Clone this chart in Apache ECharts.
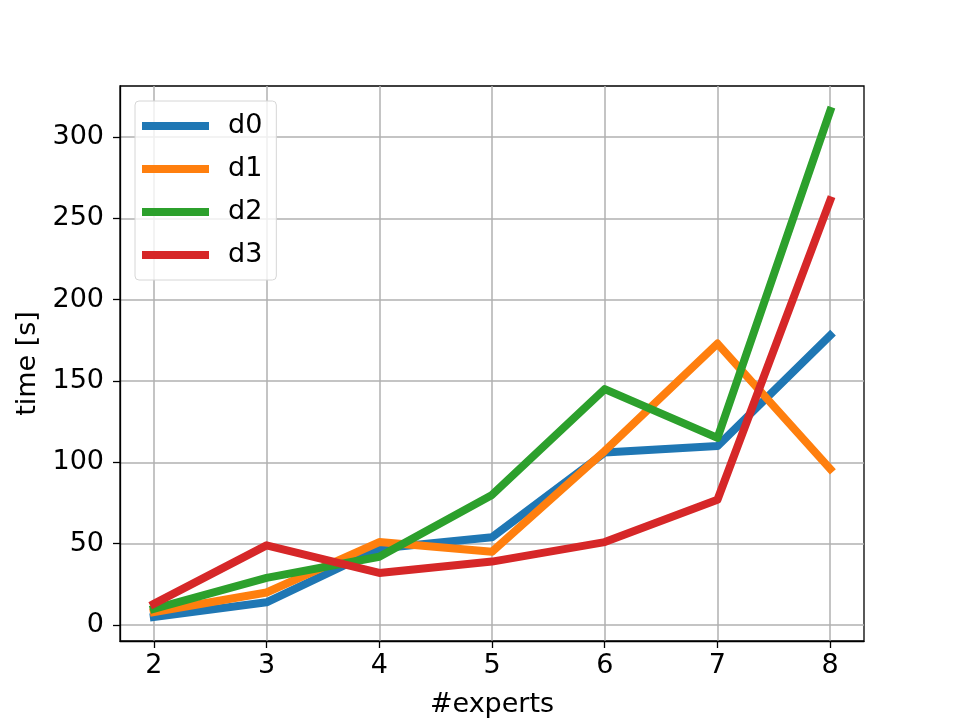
<!DOCTYPE html>
<html>
<head>
<meta charset="utf-8">
<script src="https://cdn.jsdelivr.net/npm/echarts@6/dist/echarts.min.js"></script>
<style>
  html, body { margin: 0; padding: 0; background: #fff; }
  #chart { width: 960px; height: 720px; }
</style>
</head>
<body>
<div id="chart"></div>
<script>
// values
var experts = [2, 3, 4, 5, 6, 7, 8]
var d0 = [5, 14, 47, 54, 106, 110, 178]
var d1 = [8, 20, 51, 45, 107, 173, 96]
var d2 = [10, 29, 42, 80, 145, 115, 316]
var d3 = [13, 49, 32, 39, 51, 77, 261]
var yTicks = [0, 50, 100, 150, 200, 250, 300]
var seriesNames = ['d0', 'd1', 'd2', 'd3']
var colors = ['#1f77b4', '#ff7f0e', '#2ca02c', '#d62728']

var font = 'DejaVu Sans'

function pairs(vals) {
  return experts.map(function(x, i) { return [x, vals[i]] })
}

var allData = [d0, d1, d2, d3]
var series = allData.map(function(vals, i) {
  return {
    type: 'line',
    name: seriesNames[i],
    data: pairs(vals),
    symbol: 'none',
    lineStyle: { width: 8, color: colors[i], cap: 'square', join: 'round' },
    itemStyle: { color: colors[i] },
    z: 2 + i
  }
})

var chart = echarts.init(document.getElementById('chart'))
chart.setOption({
  animation: false,
  color: colors,
  grid: {
    left: 120,
    top: 86,
    right: 96,
    bottom: 79,
    show: true,
    borderColor: '#000',
    borderWidth: 1.3,
    containLabel: false,
    outerBoundsMode: 'none'
  },
  legend: {
    orient: 'vertical',
    left: 135,
    top: 101,
    padding: [10, 14, 10, 7],
    itemWidth: 67,
    itemHeight: 8,
    itemGap: 13,
    icon: 'rect',
    backgroundColor: 'rgba(255,255,255,0.8)',
    borderColor: '#d6d6d6',
    borderWidth: 1,
    borderRadius: 4,
    textStyle: {
      fontFamily: font,
      fontSize: 27,
      color: '#000',
      lineHeight: 30,
      padding: [0, 0, 0, 14]
    },
    data: seriesNames
  },
  xAxis: {
    type: 'value',
    min: 1.7,
    max: 8.3,
    name: '#experts',
    nameLocation: 'middle',
    nameGap: 50,
    nameTextStyle: { fontFamily: font, fontSize: 27, color: '#000' },
    axisLine: { show: true, onZero: false, lineStyle: { color: '#000', width: 1.3 } },
    axisTick: { show: true, inside: false, length: 7, lineStyle: { color: '#000', width: 1.3 }, customValues: experts },
    axisLabel: { fontFamily: font, fontSize: 27, color: '#000', margin: 11, customValues: experts },
    splitLine: { show: true, lineStyle: { color: '#b0b0b0', width: 1.5 } }
  },
  yAxis: {
    type: 'value',
    min: -9.8,
    max: 331.3,
    name: 'time [s]',
    nameLocation: 'middle',
    nameGap: 78,
    nameTextStyle: { fontFamily: font, fontSize: 27, color: '#000' },
    axisLine: { show: true, onZero: false, lineStyle: { color: '#000', width: 1.3 } },
    axisTick: { show: true, inside: false, length: 7, lineStyle: { color: '#000', width: 1.3 }, customValues: yTicks },
    axisLabel: { fontFamily: font, fontSize: 27, color: '#000', margin: 16, customValues: yTicks },
    splitLine: { show: true, lineStyle: { color: '#b0b0b0', width: 1.5 } }
  },
  series: series
})
</script>
</body>
</html>
